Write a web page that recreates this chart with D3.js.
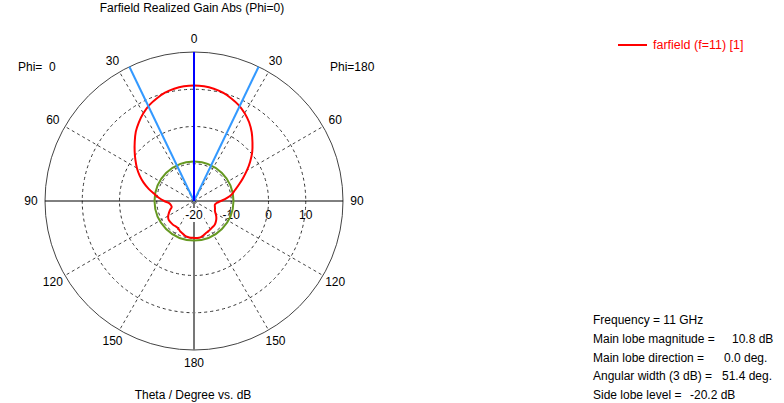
<!DOCTYPE html>
<html>
<head>
<meta charset="utf-8">
<script src="https://cdn.jsdelivr.net/npm/d3@7"></script>
<style>
html,body{margin:0;padding:0;background:#fff;}
svg{display:block;font-family:"Liberation Sans",Arial,sans-serif;}
</style>
</head>
<body>
<svg id="chart" width="784" height="403"></svg>
<script>
// ---- data ----
const thetaDeg = [-180,-175,-170,-165,-160,-155,-150,-145,-140,-135,-130,-125,-120,-115,-110,-105,-100,-95,-90,-85,-80,-75,-70,-65,-60,-55,-50,-45,-40,-35,-30,-25,-20,-15,-10,-5,
  0,5,10,15,20,25,30,35,40,45,50,55,60,65,70,75,80,85,90,95,100,105,110,115,120,125,130,135,140,145,150,155,160,165,170,175,180];
const gainDb = [-10.1,-10.1,-10.2,-10.4,-10.8,-11.1,-11.5,-11.6,-11.5,-11.5,-11.5,-11.6,-12.0,-12.6,-13.2,-13.8,-13.7,-13.3,-12.0,-10.6,-9.2,-7.4,-5.6,-3.9,-2.3,-0.8,0.8,2.5,4.3,5.8,7.2,8.4,9.3,10.1,10.6,10.9,
  11.0,10.9,10.6,10.1,9.3,8.4,7.2,5.8,4.1,2.2,0.4,-1.6,-3.6,-5.5,-7.2,-8.6,-9.7,-11.2,-12.8,-13.9,-14.3,-14.2,-14.0,-13.8,-13.3,-12.7,-12.2,-11.8,-11.5,-11.4,-11.2,-11.0,-10.8,-10.4,-10.1,-10.05,-10.1];
const radialTicks = [-20,-10,0,10];
const radialRings = [-10,0,10,20];
const angleTicks = [0,30,60,90,120,150,180,-30,-60,-90,-120,-150];
const dashedSpokes = [30,60,120,150,-30,-60,-120,-150];
const mainLobeDir = 0;
const mainLobeMag = 10.8;
const beamWidth = 51.4;
const sideLobeLevel = -20.2;
const legendLabel = "farfield (f=11) [1]";
const infoLabels = ["Frequency = 11 GHz","Main lobe magnitude =","Main lobe direction =","Angular width (3 dB) =","Side lobe level ="];
const infoValues = ["","10.8 dB","0.0 deg.","51.4 deg.","-20.2 dB"];

// ---- layout ----
const cx = 194, cy = 201, R = 149;
const svg = d3.select("#chart");
const r = d3.scaleLinear().domain([-20,20]).range([0,R]);
const rad = d => d*Math.PI/180;
const g = svg.append("g").attr("transform",`translate(${cx},${cy})`);

// grid rings
g.selectAll("circle.ring").data(radialRings).join("circle")
  .attr("r", d=>r(d)).attr("fill","none")
  .attr("stroke", d=> d===20 ? "#444" : "#333")
  .attr("stroke-width",1)
  .attr("stroke-dasharray", d=> d===20 ? null : "3,3");

// dashed spokes
g.selectAll("line.spoke").data(dashedSpokes).join("line")
  .attr("x1",0).attr("y1",0)
  .attr("x2",d=>r(20)*Math.sin(rad(d))).attr("y2",d=>-r(20)*Math.cos(rad(d)))
  .attr("stroke","#444").attr("stroke-dasharray","3,3").attr("stroke-width",1);

// horizontal axis
g.append("line").attr("x1",-r(20)).attr("x2",r(20)).attr("y1",0).attr("y2",0)
  .attr("stroke","#000").attr("stroke-width",1);
// vertical lower axis
g.append("line").attr("x1",0).attr("x2",0).attr("y1",0).attr("y2",r(20))
  .attr("stroke","#777").attr("stroke-width",2);

// radial labels
const rl = g.selectAll("g.rl").data(radialTicks).join("g")
  .attr("transform",d=>`translate(${r(d)},14)`);
rl.append("rect").attr("x",-10).attr("y",-7).attr("width",20).attr("height",14)
  .attr("fill",d=> d===-20 ? "#fff" : "none");
rl.append("text").attr("text-anchor","middle").attr("dy","0.35em")
  .attr("font-size",12).attr("fill","#000").text(d=>d);

// angle labels
g.selectAll("text.al").data(angleTicks).join("text")
  .attr("x",d=>163*Math.sin(rad(d))).attr("y",d=>-162*Math.cos(rad(d)))
  .attr("text-anchor","middle").attr("dy","0.35em").attr("font-size",12)
  .text(d=>Math.abs(d));

// side lobe circle
g.append("circle").attr("r", r(mainLobeMag + sideLobeLevel)).attr("fill","none")
  .attr("stroke","#669922").attr("stroke-width",2);

// pattern curve
const pts = thetaDeg.map((t,i)=>[rad(t), r(gainDb[i])]);
g.append("path").datum(pts.slice(0,-1))
  .attr("d", d3.lineRadial().angle(d=>d[0]).radius(d=>d[1]).curve(d3.curveCatmullRomClosed))
  .attr("fill","none").attr("stroke","#ff0000").attr("stroke-width",2);

// beam width lines
[mainLobeDir - beamWidth/2, mainLobeDir + beamWidth/2].forEach(a=>{
  g.append("line").attr("x1",0).attr("y1",0)
    .attr("x2",r(20)*Math.sin(rad(a))).attr("y2",-r(20)*Math.cos(rad(a)))
    .attr("stroke","#3399ff").attr("stroke-width",2);
});
g.append("line").attr("x1",0).attr("y1",0)
  .attr("x2",r(20)*Math.sin(rad(mainLobeDir))).attr("y2",-r(20)*Math.cos(rad(mainLobeDir)))
  .attr("stroke","#0000ff").attr("stroke-width",2);

// titles
svg.append("text").attr("x",192).attr("y",12).attr("text-anchor","middle").attr("font-size",12)
  .text("Farfield Realized Gain Abs (Phi=0)");
svg.append("text").attr("x",193).attr("y",399).attr("text-anchor","middle").attr("font-size",12)
  .text("Theta / Degree vs. dB");
svg.append("text").attr("x",18).attr("y",71).attr("font-size",12).attr("xml:space","preserve").style("white-space","pre")
  .text("Phi=  0");
svg.append("text").attr("x",330).attr("y",71).attr("font-size",12).text("Phi=180");

// legend
svg.append("line").attr("x1",618).attr("x2",647).attr("y1",45).attr("y2",45)
  .attr("stroke","#ff0000").attr("stroke-width",2);
svg.append("text").attr("x",653).attr("y",49).attr("font-size",12.5).attr("fill","#ff0000").text(legendLabel);

// info block
const infoValX = [0,732,724,722,690];
infoLabels.forEach((t,i)=>{
  const y = 324 + i*18.8;
  svg.append("text").attr("x",593).attr("y",y).attr("font-size",12).text(t);
  if(infoValues[i]) svg.append("text").attr("x",infoValX[i]).attr("y",y).attr("font-size",12).text(infoValues[i]);
});
</script>
</body>
</html>
